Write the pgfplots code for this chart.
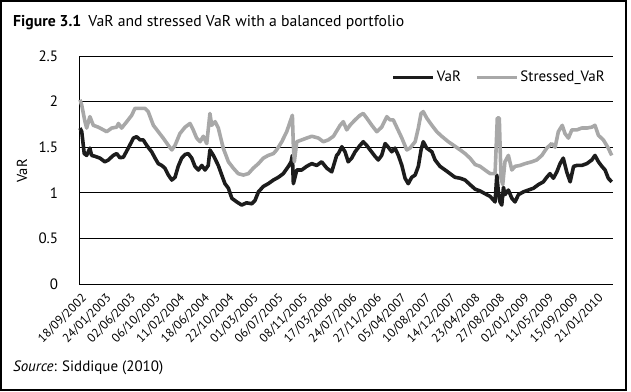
\documentclass[border=0pt]{standalone}
\usepackage{fontspec}
\setmainfont{PT Sans}
\usepackage{pgfplots}
\pgfplotsset{compat=1.18}
\definecolor{varblack}{HTML}{1C1C1C}
\definecolor{vargrey}{HTML}{A8A8A8}
\begin{document}
\begin{tikzpicture}[x=1pt,y=1pt]
\path[use as bounding box] (0,0) rectangle (631,391);
\draw[line width=1.8pt] (1,1) rectangle (626,390);
\node[anchor=base west, inner sep=0pt, font=\fontsize{15.7}{18}\selectfont] at (13,364.3)
  {\textbf{Figure 3.1}\hspace{7pt}VaR and stressed VaR with a balanced portfolio};
\node[anchor=base west, inner sep=0pt, font=\fontsize{15}{18}\selectfont] at (13,19.3)
  {\textit{Source}: Siddique (2010)};
\node[rotate=90, inner sep=0pt, font=\fontsize{14.5}{17}\selectfont] at (22,220) {VaR};
\begin{axis}[
  at={(79.3pt,107pt)}, anchor=south west,
  scale only axis, width=533.4pt, height=228pt,
  xmin=0, xmax=21.68, ymin=0, ymax=2.5,
  axis x line*=bottom, axis y line*=left,
  axis line style={black, line width=0.8pt},
  ytick={0,0.5,1,1.5,2,2.5},
  yticklabels={0,0.5,1,1.5,2,2.5},
  ymajorgrids, major grid style={black, line width=0.8pt},
  major tick length=0pt,
  xtick={0,1,...,21},
  xticklabels={18/09/2002,24/01/2003,02/06/2003,06/10/2003,11/02/2004,18/06/2004,22/10/2004,01/03/2005,06/07/2005,08/11/2005,17/03/2006,24/07/2006,27/11/2006,05/04/2007,10/08/2007,14/12/2007,23/04/2008,27/08/2008,02/01/2009,11/05/2009,15/09/2009,21/01/2010},
  xticklabel style={font=\fontsize{12.3}{14}\selectfont, inner sep=0pt, xshift=1.5pt, yshift=-8.7pt, rotate=45, anchor=north east},
  yticklabel style={font=\fontsize{15}{17}\selectfont, inner sep=0pt, anchor=east, xshift=-21pt},
  /pgf/number format/assume math mode=true,
  legend columns=2,
  legend style={draw=none, fill=none, at={(1,1)}, anchor=north east, xshift=-5.7pt, yshift=-13pt,
    inner sep=0pt, font=\fontsize{15}{17}\selectfont,
    /tikz/every even column/.append style={column sep=12pt}},
  legend image code/.code={\draw[#1, line width=3.4pt] (0pt,0pt) -- (40pt,0pt);},
  clip=false,
]
\addplot[varblack, line width=3.6pt, line join=round] coordinates {
(0.03,1.71)(0.10,1.67)(0.20,1.43)(0.30,1.41)(0.43,1.49)(0.50,1.41)(0.64,1.40)(0.84,1.38)
(1.04,1.34)(1.18,1.36)(1.38,1.41)(1.52,1.43)(1.65,1.385)(1.79,1.39)(1.99,1.49)(2.20,1.60)
(2.33,1.615)(2.47,1.58)(2.60,1.58)(2.74,1.52)(2.94,1.45)(3.08,1.38)(3.21,1.32)(3.35,1.30)
(3.48,1.27)(3.62,1.195)(3.76,1.14)(3.89,1.17)(4.02,1.29)(4.16,1.38)(4.30,1.42)(4.43,1.43)
(4.57,1.38)(4.70,1.29)(4.84,1.25)(4.98,1.30)(5.11,1.25)(5.24,1.30)(5.31,1.47)(5.45,1.41)
(5.65,1.30)(5.79,1.195)(5.92,1.10)(6.06,1.05)(6.20,0.94)(6.40,0.90)(6.60,0.866)(6.80,0.89)
(7.01,0.88)(7.14,0.915)(7.28,1.01)(7.48,1.07)(7.68,1.10)(7.89,1.14)(8.09,1.17)(8.29,1.21)
(8.50,1.29)(8.61,1.34)(8.66,1.41)(8.70,1.10)(8.84,1.25)(9.04,1.25)(9.24,1.29)(9.45,1.32)
(9.65,1.30)(9.85,1.34)(10.06,1.27)(10.26,1.23)(10.46,1.41)(10.53,1.43)(10.67,1.505)(10.80,1.45)
(10.93,1.34)(11.07,1.38)(11.21,1.45)(11.41,1.52)(11.54,1.56)(11.68,1.52)(11.82,1.47)(12.02,1.40)
(12.15,1.36)(12.29,1.41)(12.43,1.54)(12.56,1.50)(12.70,1.45)(12.83,1.49)(12.97,1.41)(13.11,1.30)
(13.24,1.16)(13.37,1.10)(13.51,1.17)(13.65,1.195)(13.78,1.29)(13.89,1.47)(13.98,1.56)(14.12,1.49)
(14.33,1.45)(14.46,1.36)(14.66,1.29)(14.87,1.25)(15.07,1.21)(15.27,1.17)(15.48,1.16)(15.68,1.14)
(15.88,1.09)(16.09,1.04)(16.29,1.02)(16.49,0.99)(16.70,0.96)(16.90,0.90)(16.97,1.195)(17.03,1.02)
(17.10,0.90)(17.17,0.866)(17.24,1.06)(17.30,0.98)(17.44,1.03)(17.58,0.94)(17.71,0.90)(17.85,0.98)
(18.05,1.01)(18.25,1.03)(18.46,1.05)(18.66,1.09)(18.86,1.12)(19.00,1.17)(19.13,1.21)(19.27,1.16)
(19.41,1.23)(19.54,1.32)(19.67,1.38)(19.81,1.23)(19.95,1.12)(20.09,1.29)(20.22,1.30)(20.42,1.30)
(20.63,1.32)(20.83,1.36)(20.96,1.41)(21.10,1.34)(21.24,1.29)(21.37,1.25)(21.50,1.16)(21.64,1.12)
};
\addlegendentry{VaR}
\addplot[vargrey, line width=3.6pt, line join=round] coordinates {
(0.03,2.02)(0.10,1.96)(0.23,1.78)(0.30,1.71)(0.43,1.835)(0.57,1.74)(0.77,1.72)(0.98,1.69)
(1.11,1.67)(1.32,1.71)(1.52,1.72)(1.59,1.76)(1.72,1.71)(1.93,1.78)(2.13,1.85)(2.26,1.925)
(2.47,1.925)(2.67,1.925)(2.80,1.89)(3.01,1.74)(3.21,1.67)(3.41,1.60)(3.62,1.52)(3.76,1.47)
(3.89,1.52)(4.09,1.65)(4.30,1.72)(4.50,1.76)(4.63,1.69)(4.77,1.60)(4.91,1.56)(5.04,1.62)
(5.18,1.54)(5.31,1.87)(5.38,1.74)(5.52,1.78)(5.65,1.71)(5.85,1.49)(6.06,1.34)(6.26,1.27)
(6.46,1.21)(6.67,1.195)(6.87,1.21)(7.07,1.27)(7.28,1.32)(7.48,1.38)(7.68,1.41)(7.89,1.43)
(8.02,1.47)(8.23,1.56)(8.43,1.67)(8.57,1.78)(8.66,1.85)(8.70,1.52)(8.74,1.34)(8.84,1.56)
(9.04,1.58)(9.24,1.60)(9.45,1.62)(9.72,1.60)(9.92,1.56)(10.12,1.58)(10.33,1.62)(10.60,1.74)
(10.73,1.78)(10.87,1.69)(11.00,1.74)(11.21,1.80)(11.41,1.85)(11.54,1.87)(11.68,1.82)(11.89,1.74)
(12.09,1.67)(12.29,1.72)(12.50,1.835)(12.63,1.80)(12.76,1.80)(12.90,1.72)(13.11,1.60)(13.31,1.47)
(13.44,1.49)(13.65,1.56)(13.78,1.71)(13.89,1.87)(13.98,1.89)(14.12,1.82)(14.33,1.74)(14.53,1.67)
(14.73,1.62)(15.00,1.56)(15.27,1.51)(15.48,1.47)(15.68,1.43)(15.88,1.38)(16.09,1.31)(16.29,1.29)
(16.49,1.25)(16.70,1.21)(16.90,1.21)(16.99,1.82)(17.07,1.82)(17.14,1.16)(17.21,1.09)(17.30,1.34)
(17.44,1.41)(17.58,1.25)(17.71,1.29)(17.91,1.30)(18.12,1.32)(18.39,1.34)(18.59,1.36)(18.80,1.41)
(19.00,1.49)(19.20,1.54)(19.34,1.50)(19.47,1.67)(19.63,1.74)(19.74,1.65)(19.88,1.60)(20.02,1.69)
(20.22,1.69)(20.42,1.71)(20.63,1.71)(20.83,1.72)(20.96,1.74)(21.10,1.63)(21.30,1.58)(21.50,1.49)
(21.64,1.41)
};
\addlegendentry{Stressed\_VaR}
\end{axis}
\end{tikzpicture}
\end{document}
